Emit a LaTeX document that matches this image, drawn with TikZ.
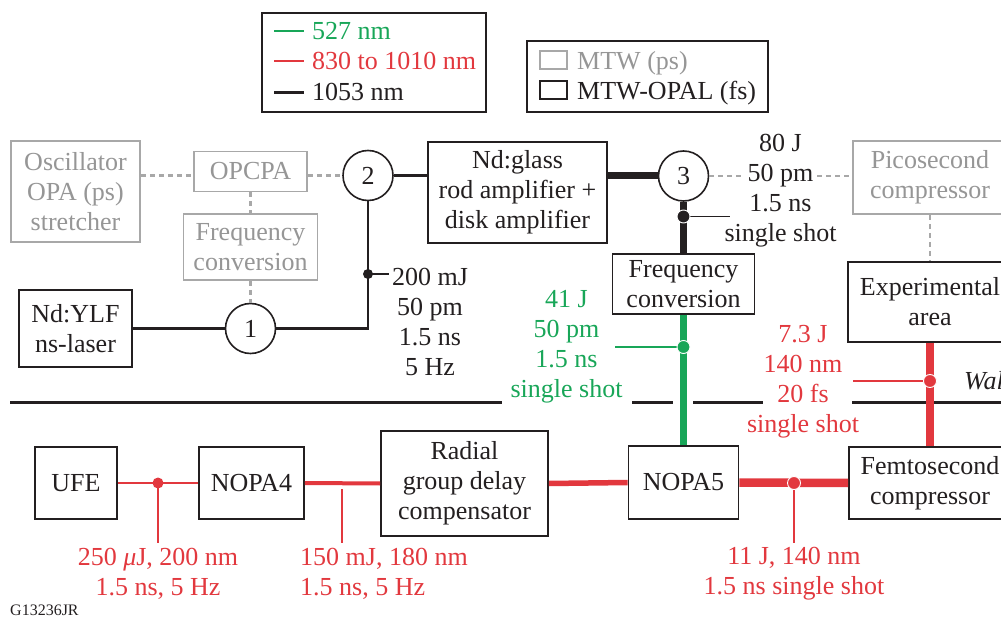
\documentclass[tikz,border=0pt]{standalone}
\usepackage{fontspec}
\setmainfont{Liberation Serif}
\definecolor{lgreen}{RGB}{24,166,88}
\definecolor{lred}{RGB}{226,56,62}
\definecolor{boxgray}{RGB}{168,168,168}
\definecolor{txtgray}{RGB}{150,150,150}
\definecolor{ink}{RGB}{35,31,32}
\newcommand{\bigf}{\fontsize{26}{30}\selectfont}
\begin{document}
\begin{tikzpicture}[x=1pt,y=-1pt,
  box/.style={draw=ink, line width=1.8pt, fill=white, inner sep=0pt, align=center, font=\bigf, text=ink},
  gbox/.style={box, draw=boxgray, text=txtgray},
  circ/.style={circle, draw=ink, line width=1.6pt, minimum size=50pt, inner sep=0pt, font=\bigf, fill=white, text=ink},
  lbl/.style={align=center, font=\bigf, inner sep=0pt},
  gdash/.style={draw=boxgray, line width=2.4pt, dash pattern=on 5pt off 4pt},
  bl/.style={draw=ink, line width=2.5pt},
  blthick/.style={draw=ink, line width=7pt},
  gline/.style={draw=lgreen, line width=7.5pt},
  leader/.style={line width=1.6pt},
  wall/.style={draw=ink, line width=3pt},
  dotb/.style={circle, fill=ink, inner sep=0pt, minimum size=10pt},
  dotw/.style={circle, draw=white, line width=0.9pt, inner sep=0pt, minimum size=13pt},
]
\useasboundingbox (0,0) rectangle (1001,617);
\clip (0,0) rectangle (1001,617);

% ---------- legends ----------
\node[draw=ink, line width=1.4pt, minimum width=224pt, minimum height=99pt, inner sep=0pt] (leg1) at (374,62.5) {};
\draw[lgreen, line width=2.5pt] (274,31) -- (304,31);
\draw[lred, line width=2.5pt] (274,61) -- (304,61);
\draw[ink, line width=2.5pt] (274,92.5) -- (304,92.5);
\node[lbl, anchor=base west, text=lgreen] (t527) at (312,40) {527 nm};
\node[lbl, anchor=base west, text=lred] (t830) at (312,70) {830 to 1010 nm};
\node[lbl, anchor=base west, text=ink] (t1053) at (312,101) {1053 nm};

\node[draw=ink, line width=1.4pt, minimum width=241pt, minimum height=71pt, inner sep=0pt] (leg2) at (647.5,76.5) {};
\node[draw=boxgray, line width=2.2pt, minimum width=27pt, minimum height=18pt, inner sep=0pt] (sw1) at (553.5,60) {};
\node[draw=ink, line width=2.2pt, minimum width=27pt, minimum height=18pt, inner sep=0pt] (sw2) at (553.5,90) {};
\node[lbl, anchor=base west, text=txtgray] (tmtw) at (577,69.5) {MTW (ps)};
\node[lbl, anchor=base west, text=ink] (topal) at (577,99.5) {MTW-OPAL (fs)};

% ---------- upper boxes ----------
\node[gbox, minimum width=129pt, minimum height=101pt] (osc) at (75.5,191.5) {Oscillator\\OPA (ps)\\stretcher};
\node[gbox, minimum width=113pt, minimum height=40pt] (opcpa) at (250.5,171.5) {OPCPA};
\node[gbox, minimum width=134pt, minimum height=66pt] (freq1) at (250.5,247) {Frequency\\conversion};
\node[box, minimum width=113pt, minimum height=77pt] (ndylf) at (75.5,328.5) {Nd:YLF\\ns-laser};
\node[circ] (c1) at (250.5,328.5) {1};
\node[circ] (c2) at (368,175.5) {2};
\node[circ] (c3) at (683.5,176) {3};
\node[box, minimum width=179pt, minimum height=101pt] (ndglass) at (517.5,192.5) {Nd:glass\\rod amplifier +\\disk amplifier};
\node[gbox, minimum width=154pt, minimum height=73pt] (pico) at (930,177.5) {Picosecond\\compressor};
\node[box, minimum width=142pt, minimum height=60pt] (freq2) at (683.5,284) {Frequency\\conversion};
\node[box, minimum width=164pt, minimum height=80pt] (exp) at (930,302) {Experimental\\area};

% ---------- lower boxes ----------
\node[box, minimum width=82pt, minimum height=72pt] (ufe) at (76,483) {UFE};
\node[box, minimum width=105pt, minimum height=72pt] (nopa4) at (251.5,483) {NOPA4};
\node[box, minimum width=167pt, minimum height=105pt] (radial) at (464.5,483.5) {Radial\\group delay\\compensator};
\node[box, minimum width=110pt, minimum height=73pt] (nopa5) at (683.5,482.5) {NOPA5};
\node[box, minimum width=162pt, minimum height=72pt] (femto) at (930,483) {Femtosecond\\compressor};

% ---------- wall ----------
\draw[wall] (10,402) -- (502,402);
\draw[wall] (632,402) -- (673,402);
\draw[wall] (693,402) -- (763,402);
\draw[wall] (852,402) -- (1001,402);
\node[lbl, anchor=base west, text=ink, font=\bigf\itshape] (wall) at (964,389) {Wall};

% ---------- gray dashed (MTW ps) ----------
\draw[gdash] (osc.east |- c2) -- (opcpa.west |- c2);
\draw[gdash] (opcpa.east |- c2) -- (c2.west);
\draw[gdash] (opcpa.south) -- (freq1.north);
\draw[gdash] (freq1.south) -- (c1.north);
\coordinate (q1) at (743,176);
\coordinate (q2) at (817,176);
\draw[gdash] (c3.east) -- (q1);
\draw[gdash] (q2) -- (pico.west |- c3);
\draw[gdash] (pico.south) -- (exp.north);

% ---------- 1053 nm ----------
\draw[bl] (ndylf.east) -- (c1.west);
\draw[bl] (c1.east) -- (c1.east -| c2.south) -- (c2.south);
\draw[bl] (c2.east) -- (c2.east -| ndglass.west);
\draw[blthick] (c3.west -| ndglass.east) -- (c3.west);
\draw[blthick] (c3.south) -- (freq2.north);

\coordinate (l200) at (389,274);
\draw[ink, leader] (368,274) -- (l200);
\node[dotb] (dot200) at (368,274) {};
\node[lbl, text=ink] (lab200) at (430,321.5) {200 mJ\\50 pm\\1.5 ns\\5 Hz};

\coordinate (l3) at (730,216.5);
\draw[ink, leader] (683.5,216.5) -- (l3);
\node[dotw, fill=ink] (dot3) at (683.5,216.5) {};
\node[lbl, text=ink] (lab80) at (780.5,191) {80 J\\50 pm\\1.5 ns\\single shot};

% ---------- 527 nm ----------
\draw[gline] (freq2.south) -- (nopa5.north);
\coordinate (lg) at (615,347);
\draw[lgreen, leader] (lg) -- (683.5,347);
\node[dotw, fill=lgreen] (dotg) at (683.5,347) {};
\node[lbl, text=lgreen] (labg) at (566.5,347) {41 J\\50 pm\\1.5 ns\\single shot};

% ---------- 830 to 1010 nm ----------
\draw[draw=lred, line width=7.5pt] (exp.south) -- (femto.north);
\coordinate (lr) at (853,381);
\draw[lred, leader] (lr) -- (930,381);
\node[dotw, fill=lred] (dotr) at (930,381) {};
\node[lbl, text=lred] (labr) at (803,382) {7.3 J\\140 nm\\20 fs\\single shot};

\draw[draw=lred, line width=2pt] (ufe.east) -- (nopa4.west);
\coordinate (l250) at (158,543);
\draw[lred, leader] (158,483) -- (l250);
\node[circle, fill=lred, inner sep=0pt, minimum size=11pt] (dotu) at (158,483) {};
\node[lbl, text=lred] (lab250) at (158,574) {250 \textit{μ}J, 200 nm\\1.5 ns, 5 Hz};

\draw[draw=lred, line width=4pt] (nopa4.east) -- (radial.west);
\coordinate (l150a) at (342,489);
\coordinate (l150b) at (342,543);
\draw[lred, leader] (l150a) -- (l150b);
\node[lbl, text=lred, align=left, anchor=west] (lab150) at (300,574) {150 mJ, 180 nm\\1.5 ns, 5 Hz};

\draw[draw=lred, line width=5.5pt] (radial.east) -- (nopa5.west);
\draw[draw=lred, line width=8.5pt] (nopa5.east) -- (femto.west);
\coordinate (l11) at (794,543);
\draw[lred, leader] (794,483) -- (l11);
\node[dotw, fill=lred] (dot11) at (794,483) {};
\node[lbl, text=lred] (lab11) at (794,574) {11 J, 140 nm\\1.5 ns single shot};

% ---------- figure id ----------
\node[inner sep=0pt, anchor=base west, font=\fontsize{16}{18}\selectfont, text=ink] (gid) at (10,615) {G13236JR};
\end{tikzpicture}
\end{document}
